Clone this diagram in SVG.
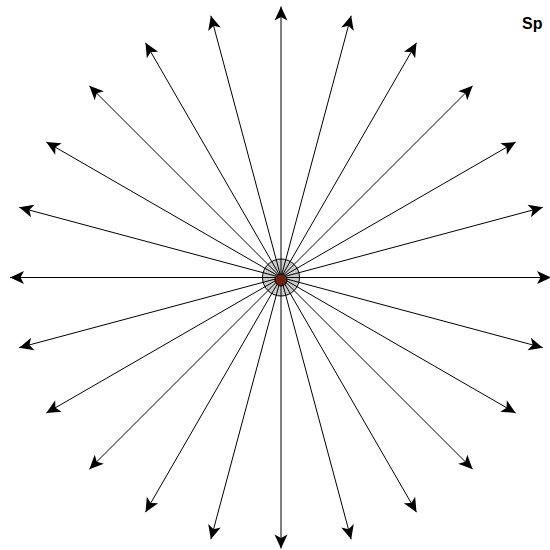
<svg xmlns="http://www.w3.org/2000/svg" width="550" height="550" viewBox="0 0 550 550">
<style>
.spoke{stroke:#000;stroke-width:1;fill:none;marker-end:url(#arr);}
.label{font-family:"Liberation Sans",Arial,sans-serif;font-size:16px;font-weight:bold;fill:#000;}
</style>
<defs>
<marker id="arr" markerUnits="userSpaceOnUse" viewBox="-15 -7 16 14" markerWidth="16" markerHeight="14" refX="0" refY="0" orient="auto">
<path d="M0,0 L-14,-6.5 L-10.5,0 L-14,6.5 Z" fill="#000"/>
</marker>
</defs>
<rect width="550" height="550" fill="#fff"/>
<g id="hub">
<circle cx="281" cy="277.5" r="18.5" fill="#cccccc" stroke="#000" stroke-width="1"/>
</g>
<g id="connectors">
<line class="spoke" x1="281" y1="277.5" x2="281" y2="6.5"/>
<line class="spoke" x1="281" y1="277.5" x2="351.14" y2="15.73"/>
<line class="spoke" x1="281" y1="277.5" x2="416.5" y2="42.81"/>
<line class="spoke" x1="281" y1="277.5" x2="472.63" y2="85.87"/>
<line class="spoke" x1="281" y1="277.5" x2="515.69" y2="142"/>
<line class="spoke" x1="281" y1="277.5" x2="542.77" y2="207.36"/>
<line class="spoke" x1="281" y1="277.5" x2="551" y2="277.5"/>
<line class="spoke" x1="281" y1="277.5" x2="542.77" y2="347.64"/>
<line class="spoke" x1="281" y1="277.5" x2="515.69" y2="413"/>
<line class="spoke" x1="281" y1="277.5" x2="472.63" y2="469.13"/>
<line class="spoke" x1="281" y1="277.5" x2="416.5" y2="512.19"/>
<line class="spoke" x1="281" y1="277.5" x2="351.14" y2="539.27"/>
<line class="spoke" x1="281" y1="277.5" x2="281" y2="548.5"/>
<line class="spoke" x1="281" y1="277.5" x2="210.86" y2="539.27"/>
<line class="spoke" x1="281" y1="277.5" x2="145.5" y2="512.19"/>
<line class="spoke" x1="281" y1="277.5" x2="89.37" y2="469.13"/>
<line class="spoke" x1="281" y1="277.5" x2="46.31" y2="413"/>
<line class="spoke" x1="281" y1="277.5" x2="19.23" y2="347.64"/>
<line class="spoke" x1="281" y1="277.5" x2="10" y2="277.5"/>
<line class="spoke" x1="281" y1="277.5" x2="19.23" y2="207.36"/>
<line class="spoke" x1="281" y1="277.5" x2="46.31" y2="142"/>
<line class="spoke" x1="281" y1="277.5" x2="89.37" y2="85.87"/>
<line class="spoke" x1="281" y1="277.5" x2="145.5" y2="42.81"/>
<line class="spoke" x1="281" y1="277.5" x2="210.86" y2="15.73"/>
</g>
<g id="core">
<circle cx="281" cy="280" r="6" fill="#6e2410" stroke="#000" stroke-width="1"/>
</g>
<g id="title">
<text class="label" x="522" y="29">Sp</text>
</g>
</svg>
